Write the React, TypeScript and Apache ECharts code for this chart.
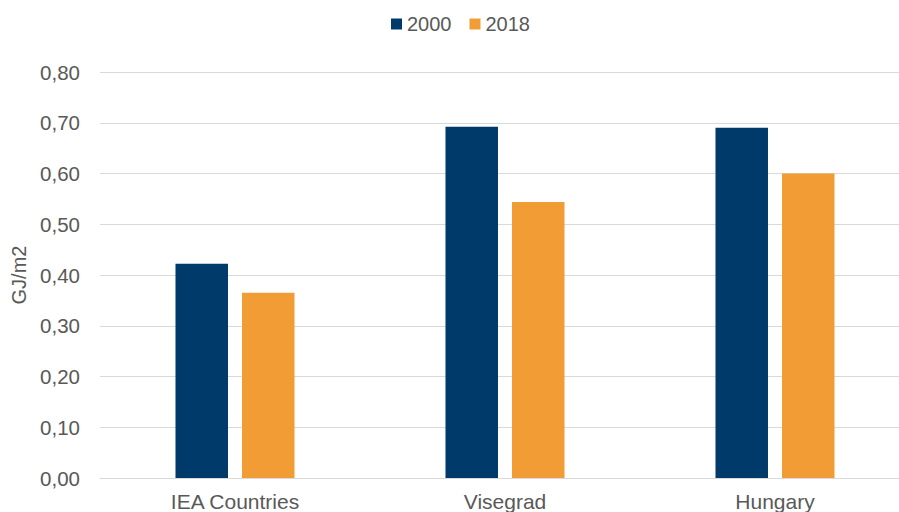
import React, { useEffect, useRef } from "react";
import * as echarts from "echarts";

const categories = ["IEA Countries", "Visegrad", "Hungary"];
const seriesNames = ["2000", "2018"];
const values2000 = [0.422, 0.692, 0.69];
const values2018 = [0.365, 0.544, 0.6];
const colors = ["#003A6B", "#F29C35"];

export default function App() {
  const ref = useRef<HTMLDivElement>(null);
  useEffect(() => {
    if (!ref.current) return;
    const chart = echarts.init(ref.current, null, { renderer: "svg" });
    const font = "Liberation Sans, Arial, sans-serif";
    chart.setOption({
      animation: false,
      textStyle: { fontFamily: font },
      legend: {
        top: 9,
        left: 386,
        itemWidth: 11,
        itemHeight: 11,
        itemGap: 18,
        icon: "rect",
        textStyle: { fontSize: 20, color: "#595959", fontFamily: font },
        data: seriesNames,
      },
      grid: { left: 100, right: 0, top: 72, bottom: 34, containLabel: false },
      xAxis: {
        type: "category",
        data: categories,
        axisLine: { lineStyle: { color: "#D9D9D9", width: 1 } },
        axisTick: { show: false },
        axisLabel: { fontSize: 21, color: "#595959", margin: 13, fontFamily: font },
      },
      yAxis: {
        type: "value",
        min: 0,
        max: 0.8,
        interval: 0.1,
        name: "GJ/m2",
        nameLocation: "middle",
        nameGap: 68,
        nameTextStyle: { fontSize: 20, color: "#595959", fontFamily: font },
        axisLabel: {
          fontSize: 20.5,
          color: "#595959",
          margin: 20,
          fontFamily: font,
          formatter: (v: number) => v.toFixed(2).replace(".", ","),
        },
        splitLine: { lineStyle: { color: "#D9D9D9", width: 1 } },
        axisLine: { show: false },
        axisTick: { show: false },
      },
      series: [
        {
          name: seriesNames[0],
          type: "bar",
          data: values2000,
          barWidth: 52.5,
          barGap: "26.7%",
          itemStyle: { color: colors[0] },
        },
        {
          name: seriesNames[1],
          type: "bar",
          data: values2018,
          barWidth: 52.5,
          barGap: "26.7%",
          itemStyle: { color: colors[1] },
        },
      ],
    });
    return () => chart.dispose();
  }, []);
  return (
    <div
      style={{ position: "fixed", left: 0, top: 0, width: 899, height: 512, overflow: "hidden", background: "#fff" }}
    >
      <div ref={ref} style={{ width: 910, height: 512 }} />
    </div>
  );
}
